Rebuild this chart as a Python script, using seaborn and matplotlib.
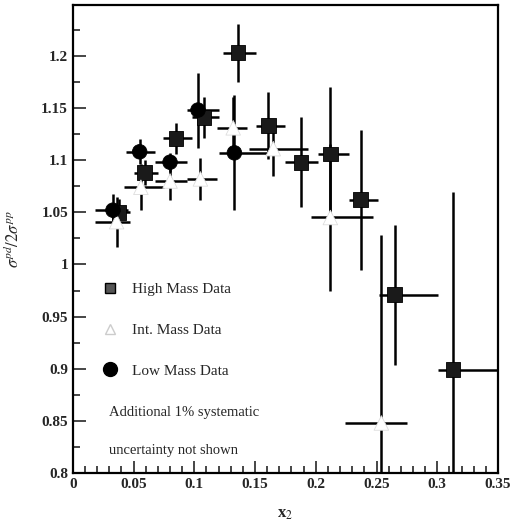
import numpy as np
import pandas as pd
import matplotlib
matplotlib.use('Agg')
import matplotlib.pyplot as plt
import seaborn as sns
from matplotlib.lines import Line2D
from matplotlib.ticker import MultipleLocator

# High Mass Data
high_x = [0.038, 0.059, 0.085, 0.108, 0.136, 0.161, 0.188, 0.212, 0.237, 0.265, 0.313]
high_y = [1.050, 1.088, 1.121, 1.141, 1.203, 1.133, 1.098, 1.106, 1.062, 0.971, 0.899]
high_xlo = [0.030, 0.050, 0.074, 0.098, 0.124, 0.151, 0.175, 0.202, 0.227, 0.252, 0.301]
high_xhi = [0.047, 0.070, 0.098, 0.120, 0.151, 0.175, 0.202, 0.227, 0.251, 0.301, 0.354]
high_err = [0.013, 0.012, 0.015, 0.020, 0.028, 0.032, 0.043, 0.064, 0.067, 0.067, 0.170]

# Int. Mass Data
int_x = [0.036, 0.056, 0.080, 0.105, 0.132, 0.165, 0.212, 0.254]
int_y = [1.041, 1.074, 1.080, 1.082, 1.131, 1.111, 1.045, 0.848]
int_xlo = [0.018, 0.042, 0.068, 0.094, 0.119, 0.145, 0.196, 0.224]
int_xhi = [0.047, 0.075, 0.094, 0.119, 0.143, 0.194, 0.247, 0.275]
int_err = [0.024, 0.022, 0.018, 0.020, 0.030, 0.026, 0.070, 0.180]

# Low Mass Data
low_x = [0.033, 0.055, 0.080, 0.103, 0.133]
low_y = [1.052, 1.108, 1.098, 1.148, 1.107]
low_xlo = [0.018, 0.044, 0.068, 0.094, 0.120]
low_xhi = [0.045, 0.068, 0.094, 0.120, 0.169]
low_err = [0.016, 0.012, 0.009, 0.036, 0.055]

series = ['High Mass Data', 'Int. Mass Data', 'Low Mass Data']

frames = []
for name, x, y, xlo, xhi, err in [
        (series[0], high_x, high_y, high_xlo, high_xhi, high_err),
        (series[1], int_x, int_y, int_xlo, int_xhi, int_err),
        (series[2], low_x, low_y, low_xlo, low_xhi, low_err)]:
    frames.append(pd.DataFrame({'x2': x, 'ratio': y, 'xlo': xlo, 'xhi': xhi,
                                'err': err, 'set': name}))
df = pd.concat(frames, ignore_index=True)

sns.set_style('ticks')
plt.rcParams['font.family'] = ['Liberation Serif', 'DejaVu Serif']
plt.rcParams['mathtext.fontset'] = 'stix'

fig = plt.figure(figsize=(5.32, 5.25), dpi=100)
ax = fig.add_axes([0.137, 0.099, 0.799, 0.891])

# error bars first, markers go on top
for name in series:
    d = df[df['set'] == name]
    ax.errorbar(d['x2'], d['ratio'],
                xerr=[d['x2'] - d['xlo'], d['xhi'] - d['x2']],
                yerr=d['err'], fmt='none', ecolor='black', elinewidth=1.8,
                capsize=0, zorder=2)

sns.scatterplot(data=df, x='x2', y='ratio', hue='set', style='set',
                hue_order=series, style_order=series,
                palette={series[0]: '#1a1a1a', series[1]: 'white', series[2]: 'black'},
                markers={series[0]: 's', series[1]: '^', series[2]: 'o'},
                s=110, edgecolor='#dddddd', linewidth=0.6, legend=False,
                zorder=3, ax=ax)
# solid edges for the filled markers
for coll in ax.collections:
    fc = coll.get_facecolors()
    if len(fc):
        edges = ['#dddddd' if f[0] > 0.9 else 'black' for f in fc]
        coll.set_edgecolors(edges)

ax.set_xlim(0, 0.35)
ax.set_ylim(0.8, 1.2485)
ax.xaxis.set_major_locator(MultipleLocator(0.05))
ax.xaxis.set_minor_locator(MultipleLocator(0.01))
ax.yaxis.set_major_locator(MultipleLocator(0.05))
ax.yaxis.set_minor_locator(MultipleLocator(0.025))
ax.set_xticks(ax.get_xticks())
ax.set_yticks(ax.get_yticks())
ax.set_xticklabels([('%g' % v) for v in ax.get_xticks()])
ax.set_yticklabels([('%g' % v) for v in ax.get_yticks()])
ax.set_xlim(0, 0.35)
ax.set_ylim(0.8, 1.2485)
ax.tick_params(which='both', direction='in', top=False, right=False,
               width=1.2, labelsize=11)
ax.tick_params(which='major', length=9)
ax.tick_params(which='minor', length=5)
for lab in ax.get_xticklabels() + ax.get_yticklabels():
    lab.set_fontweight('bold')
for sp in ax.spines.values():
    sp.set_visible(True)
    sp.set_linewidth(1.6)
    sp.set_color('black')

ax.set_xlabel('x$_2$', fontsize=12, fontweight='bold')
ax.set_ylabel(r'$\sigma^{pd}/2\sigma^{pp}$', fontsize=12)
ax.xaxis.set_label_coords(0.5, -0.07)
ax.yaxis.set_label_coords(-0.118, 0.5)

handles = [
    Line2D([], [], marker='s', ls='none', color='#555555', mec='black', ms=7),
    Line2D([], [], marker='^', ls='none', color='white', mec='#cccccc', ms=7),
    Line2D([], [], marker='o', ls='none', color='black', ms=10),
]
ax.legend(handles, series, loc='upper left', bbox_to_anchor=(0.038, 0.437),
          frameon=False, labelspacing=1.78, handletextpad=0.9,
          handlelength=1.0, fontsize=11)

ax.text(0.085, 0.13, 'Additional 1% systematic', transform=ax.transAxes,
        fontsize=10.5, va='center')
ax.text(0.085, 0.048, 'uncertainty not shown', transform=ax.transAxes,
        fontsize=10.5, va='center')

fig.savefig('out.png', dpi=100)
